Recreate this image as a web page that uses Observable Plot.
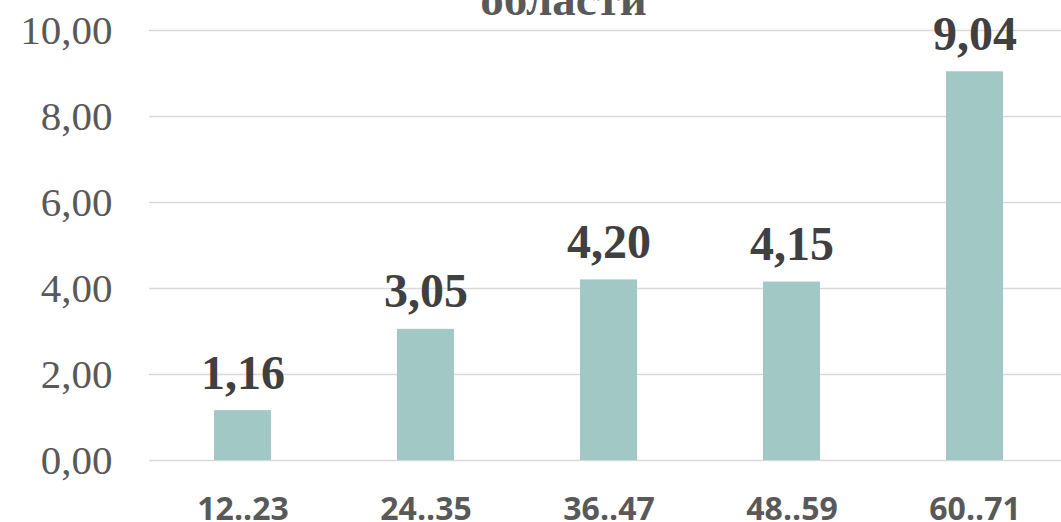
<!DOCTYPE html>
<html>
<head>
<meta charset="utf-8">
<script src="https://cdn.jsdelivr.net/npm/d3@7"></script>
<script src="https://cdn.jsdelivr.net/npm/@observablehq/plot@0.6"></script>
<style>
  html, body { margin: 0; padding: 0; background: #fff; }
  #chart svg { display: block; }
</style>
</head>
<body>
<div id="chart"></div>
<script>
const categories = ["12..23", "24..35", "36..47", "48..59", "60..71"];
const values = [1.16, 3.05, 4.20, 4.15, 9.04];
const yTicks = [0, 2, 4, 6, 8, 10];
const titleText = "области";

const data = categories.map((c, i) => ({cat: c, value: values[i]}));
const fmt = d => d.toFixed(2).replace(".", ",");

const chart = Plot.plot({
  width: 1061,
  height: 522,
  marginLeft: 149,
  marginRight: 0,
  marginTop: 30,
  marginBottom: 62,
  style: {background: "#fff", color: "#595959", overflow: "visible"},
  x: {domain: categories, range: [149, 1067], paddingInner: 0.69, paddingOuter: 0.345, align: 0.5, axis: null},
  y: {domain: [0, 10], range: [460, 30], axis: null},
  marks: [
    Plot.ruleY(yTicks, {stroke: "#d9d9d9", strokeWidth: 1.5}),
    Plot.barY(data, {x: "cat", y: "value", fill: "#a2c8c5"}),
    Plot.text(data, {x: "cat", y: "value", text: d => fmt(d.value), lineAnchor: "bottom", dy: -22,
      fontFamily: "Liberation Serif", fontWeight: "bold", fontSize: 48, fill: "#404040"}),
    Plot.text(yTicks, {y: d => d, text: d => fmt(d), frameAnchor: "left", textAnchor: "end", dx: -37,
      lineAnchor: "middle", fontFamily: "Liberation Serif", fontSize: 41, fill: "#595959"}),
    Plot.text(categories, {x: d => d, text: d => d, frameAnchor: "bottom", lineAnchor: "bottom", dy: 59,
      fontFamily: "Open Sans", fontWeight: "bold", fontSize: 32, fill: "#595959"}),
    Plot.text([titleText], {frameAnchor: "top", text: d => d, lineAnchor: "bottom", dx: -42, dy: -16,
      fontFamily: "Liberation Serif", fontWeight: "bold", fontSize: 47, fill: "#595959"})
  ]
});
document.getElementById("chart").appendChild(chart);
</script>
</body>
</html>
